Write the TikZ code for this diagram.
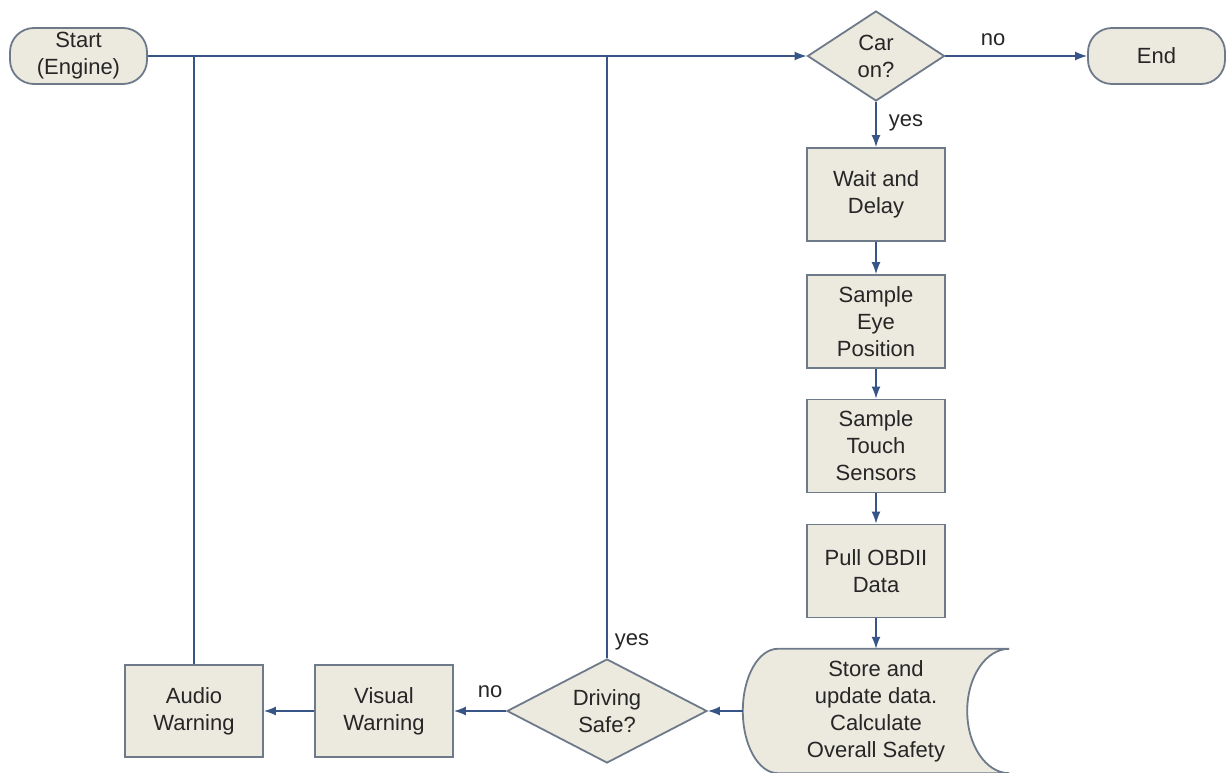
\documentclass[tikz,border=0pt]{standalone}
\usepackage{fontspec}
\setmainfont{Liberation Sans}
\usetikzlibrary{shapes.geometric,arrows.meta,calc,backgrounds}
\definecolor{boxfill}{RGB}{236,233,222}
\definecolor{boxline}{RGB}{110,122,138}
\definecolor{flow}{RGB}{55,85,135}

\begin{document}
\begin{tikzpicture}[x=1pt,y=-1pt,
  base/.style={draw=boxline, fill=boxfill, line width=1.8pt, align=center,
               font=\fontsize{22}{27}\selectfont, inner sep=0pt, text=black!85},
  term/.style={base, rounded corners=24pt, minimum width=137pt, minimum height=56pt},
  proc/.style={base, rectangle, minimum width=138pt, minimum height=93pt},
  dec/.style={base, diamond, shape aspect=1.6},
  flowline/.style={draw=flow, line width=1.5pt},
  arr/.style={flowline, -{Latex[length=12pt,width=9pt]}},
  lbl/.style={font=\fontsize{22}{27}\selectfont, inner sep=0pt, text=black!85}]

\useasboundingbox (0,0) rectangle (1226,773);
\begin{scope}[on background layer]
  \fill[white] (0,0) rectangle (1226,773);
\end{scope}

% terminals
\node[term] (start) at (78.5,56) {Start\\(Engine)};
\node[term] (end) at (1156.5,56) {End};

% decision: engine running
\node[dec, minimum width=137pt, minimum height=90pt] (car) at (876,56) {Car\\on?};

% processing chain
\node[proc] (wait)  at (876,194.5) {Wait and\\Delay};
\node[proc] (eye)   at (876,321.5) {Sample\\Eye\\Position};
\node[proc] (touch) at (876,446)   {Sample\\Touch\\Sensors};
\node[proc] (pull)  at (876,571)   {Pull OBDII\\Data};

% stored-data block: convex left side, concave right side
\node[align=center, font=\fontsize{22}{27}\selectfont, text=black!85,
      minimum width=266pt, minimum height=124pt, inner sep=0pt]
      (store) at (876,711) {Store and\\update data.\\Calculate\\Overall Safety};
\begin{scope}[on background layer]
  \path[base]
    ($(store.north west)+(35,0)$) -- (store.north east)
    .. controls ($(store.north east)+(-23.2,0)$) and ($(store.north east)+(-42,27.8)$)
    .. ($(store.north east)+(-42,62)$)
    .. controls ($(store.south east)+(-42,-27.8)$) and ($(store.south east)+(-23.2,0)$)
    .. (store.south east)
    -- ($(store.south west)+(35,0)$)
    .. controls ($(store.south west)+(15.7,0)$) and ($(store.south west)+(0,-27.8)$)
    .. (store.west)
    .. controls ($(store.north west)+(0,27.8)$) and ($(store.north west)+(15.7,0)$)
    .. ($(store.north west)+(35,0)$)
    -- cycle;
\end{scope}

% safety decision and warnings
\node[dec, minimum width=200pt, minimum height=104pt] (drive) at (607,711) {Driving\\Safe?};
\node[proc, minimum height=92pt] (visual) at (384,711) {Visual\\Warning};
\node[proc, minimum height=92pt] (audio)  at (194,711) {Audio\\Warning};

% connectors
\draw[arr] (start.east) -- (car.west);
\draw[arr] (car.east) -- (end.west);
\draw[arr] (car.south) -- (wait.north);
\draw[arr] (wait) -- (eye);
\draw[arr] (eye) -- (touch);
\draw[arr] (touch) -- (pull);
\draw[arr] (pull.south) -- (store.north);
\draw[arr] (store.west) -- (drive.east);
\draw[arr] (drive.west) -- (visual.east);
\draw[arr] (visual.west) -- (audio.east);
\draw[flowline] (audio.north) -- (audio.north |- start.east);
\draw[flowline] (drive.north) -- (drive.north |- start.east);

% branch labels
\node[lbl] (noCar)   at (993,40)  {no};
\node[lbl] (yesCar)  at (906,123) {yes};
\node[lbl] (yesSafe) at (632,642) {yes};
\node[lbl] (noSafe)  at (490,692) {no};

\end{tikzpicture}
\end{document}
